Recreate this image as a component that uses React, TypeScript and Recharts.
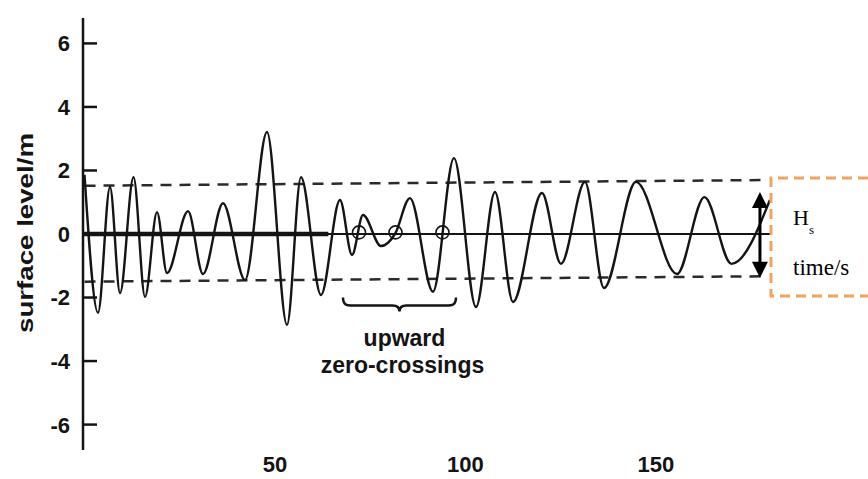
import { LineChart, Line, XAxis, YAxis, ReferenceLine, ReferenceDot } from "recharts";

// wave record: time (s) of each crest / trough and its surface level (m)
const timeS = [
  0, 3.54, 6.69, 9.32, 12.86, 15.88, 19.03, 21.65, 27.17, 31.1, 36.35, 42.13, 47.9, 53.15,
  56.82, 62.07, 67.06, 70.21, 73.1, 77.82, 81.5, 85.43, 91.47, 96.98, 102.76, 107.74, 112.47,
  120.08, 125.07, 131.36, 136.35, 144.75, 155.51, 162.73, 169.82, 179.92,
];
const levelM = [
  1.86, -2.48, 1.48, -1.86, 1.79, -1.98, 0.69, -1.23, 0.72, -1.26, 0.97, -1.45, 3.21, -2.86,
  1.79, -1.92, 1.07, -0.66, 0.6, -0.38, 0, 1.13, -1.82, 2.39, -2.3, 1.32, -2.14,
  1.29, -0.94, 1.64, -1.7, 1.64, -1.26, 1.16, -0.94, 1.07,
];

const yTicks = [-6, -4, -2, 0, 2, 4, 6];
const xTicks = [50, 100, 150];
const upCrossings = [72.05, 81.63, 93.96];
const upperHs = [1.52, 1.7];
const lowerHs = [-1.5, -1.33];
const braceSpan = [67.85, 97.5];
const hsArrow = [177.3, 1.32, -1.38];

const data = timeS.map((t, i) => ({ t, level: levelM[i] }));

const SANS = "'Liberation Sans', Arial, Helvetica, sans-serif";
const SERIF = "'Liberation Serif', 'Times New Roman', serif";
const INK = "#141414";

function YTick(props: any) {
  const { x, y, payload } = props;
  return (
    <g>
      <line x1={x + 13} x2={x + 27} y1={y} y2={y} stroke={INK} strokeWidth={2.5} />
      <text x={x} y={y} dy="0.36em" textAnchor="end" fontFamily={SANS} fontWeight="bold" fontSize={22} fill={INK}>
        {payload.value}
      </text>
    </g>
  );
}

function YTitle(props: any) {
  const vb = props.viewBox || {};
  const cy = vb.height ? vb.y + vb.height / 2 : 234;
  return (
    <text
      x={33}
      y={cy - 1}
      transform={`rotate(-90, 33, ${cy - 1})`}
      textAnchor="middle"
      fontFamily={SANS}
      fontWeight="bold"
      fontSize={22}
      textLength={200}
      lengthAdjust="spacingAndGlyphs"
      fill={INK}
    >
      surface level/m
    </text>
  );
}

function Brace(props: any) {
  const { x1, y1, x2 } = props;
  const cx = (x1 + x2) / 2;
  const y = y1;
  const d = `M${x1},${y} C${x1},${y + 7} ${x1 + 3},${y + 8} ${x1 + 10},${y + 8} L${cx - 7},${y + 8} C${cx - 2},${y + 8} ${cx},${y + 10} ${cx},${y + 14} C${cx},${y + 10} ${cx + 2},${y + 8} ${cx + 7},${y + 8} L${x2 - 10},${y + 8} C${x2 - 3},${y + 8} ${x2},${y + 7} ${x2},${y}`;
  return (
    <g>
      <path d={d} fill="none" stroke={INK} strokeWidth={2.5} />
      <text x={cx + 5} y={y + 48} textAnchor="middle" fontFamily={SANS} fontWeight="bold" fontSize={23} fill={INK}>
        upward
      </text>
      <text x={cx + 3} y={y + 75} textAnchor="middle" fontFamily={SANS} fontWeight="bold" fontSize={23} fill={INK}>
        zero-crossings
      </text>
    </g>
  );
}

function Arrow(props: any) {
  const { x1, y1, y2 } = props;
  const top = Math.min(y1, y2);
  const bot = Math.max(y1, y2);
  return (
    <g>
      <line x1={x1} x2={x1} y1={top + 12} y2={bot - 12} stroke="#000" strokeWidth={3} />
      <polygon points={`${x1},${top} ${x1 - 8},${top + 16} ${x1 + 8},${top + 16}`} fill="#000" />
      <polygon points={`${x1},${bot} ${x1 - 8},${bot - 16} ${x1 + 8},${bot - 16}`} fill="#000" />
    </g>
  );
}

export default function App() {
  return (
    <div style={{ position: "absolute", left: 0, top: 0, width: 868, height: 479, background: "#fff" }}>
      <LineChart width={868} height={479} data={data} margin={{ top: 18, right: 97, bottom: 0, left: 0 }}>
        <XAxis
          dataKey="t"
          type="number"
          domain={[-0.4, 180.2]}
          ticks={xTicks}
          allowDataOverflow
          axisLine={false}
          tickLine={false}
          tickSize={0}
          tickMargin={6}
          height={29}
          tick={{ fontFamily: SANS, fontWeight: "bold", fontSize: 22, fill: INK }}
        />
        <YAxis
          type="number"
          domain={[-6.8, 6.8]}
          ticks={yTicks}
          allowDataOverflow
          width={83}
          axisLine={{ stroke: INK, strokeWidth: 2.5 }}
          tickLine={false}
          tickSize={0}
          tickMargin={13}
          tick={<YTick />}
          label={{ content: (p: any) => <YTitle {...p} /> }}
        />
        <ReferenceLine y={0} stroke={INK} strokeWidth={2.2} />
        <ReferenceLine segment={[{ x: -0.4, y: 0 }, { x: 64, y: 0 }]} stroke={INK} strokeWidth={4.5} />
        <ReferenceLine
          segment={[{ x: 0, y: upperHs[0] }, { x: 179.5, y: upperHs[1] }]}
          stroke="#2a2a2a"
          strokeWidth={2.5}
          strokeDasharray="11 8"
        />
        <ReferenceLine
          segment={[{ x: 0, y: lowerHs[0] }, { x: 179.5, y: lowerHs[1] }]}
          stroke="#2a2a2a"
          strokeWidth={2.5}
          strokeDasharray="11 8"
        />
        <Line
          isAnimationActive={false}
          type="monotone"
          dataKey="level"
          stroke={INK}
          strokeWidth={2.4}
          dot={false}
          activeDot={false}
        />
        {upCrossings.map((t) => (
          <ReferenceDot key={t} x={t} y={0.05} r={6.5} fill="none" stroke={INK} strokeWidth={1.6} />
        ))}
        <ReferenceLine
          segment={[{ x: braceSpan[0], y: -2.0 }, { x: braceSpan[1], y: -2.0 }]}
          shape={(p: any) => <Brace {...p} />}
        />
        <ReferenceLine
          segment={[{ x: hsArrow[0], y: hsArrow[1] }, { x: hsArrow[0], y: hsArrow[2] }]}
          shape={(p: any) => <Arrow {...p} />}
        />
      </LineChart>
      <svg
        width={868}
        height={479}
        style={{ position: "absolute", left: 0, top: 0, pointerEvents: "none" }}
      >
        <path d="M868,178 H771 V296 H868" fill="none" stroke="#f4a25a" strokeWidth={3} strokeDasharray="10 6" />
        <text x={793} y={225} fontFamily={SERIF} fontSize={22} fill="#000">
          H
        </text>
        <text x={809} y={234} fontFamily={SERIF} fontSize={13} fill="#000">
          s
        </text>
        <text x={793} y={275} fontFamily={SERIF} fontSize={23} fill="#000">
          time/s
        </text>
      </svg>
    </div>
  );
}
